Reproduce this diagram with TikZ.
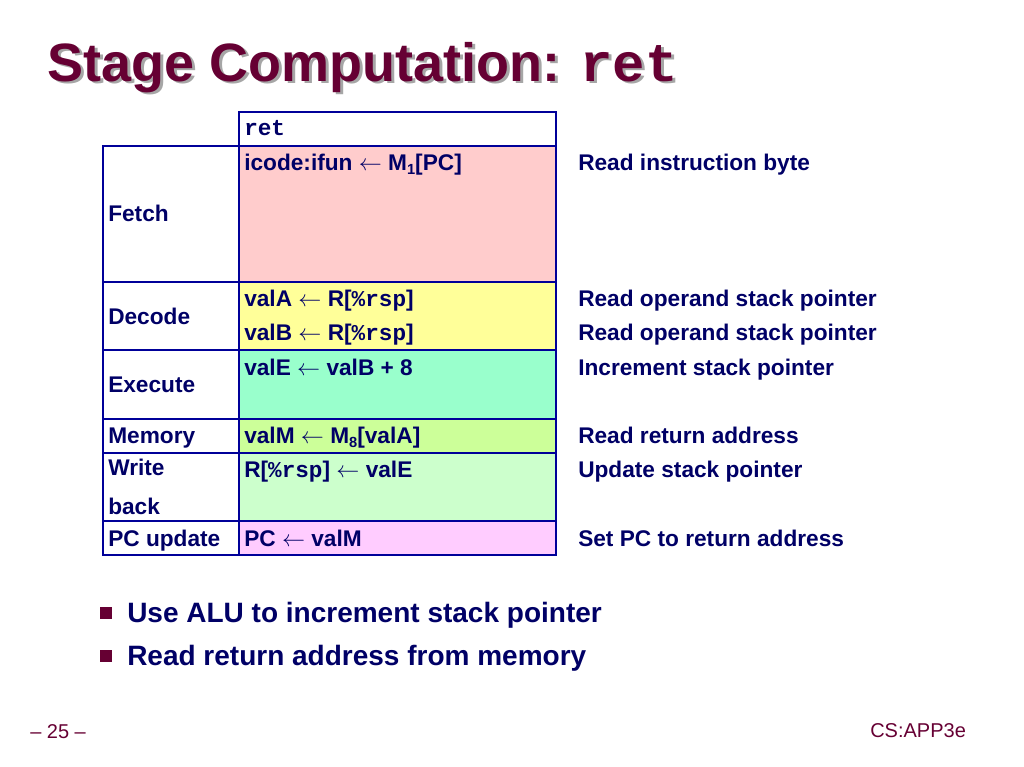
\documentclass[tikz,border=0pt]{standalone}
\usepackage{fontspec}
\setmainfont{Liberation Sans}
\setmonofont{Liberation Mono}
\usepackage{xcolor}
\definecolor{slidenavy}{HTML}{000066}
\definecolor{gridblue}{HTML}{000099}
\definecolor{titlered}{HTML}{660033}
\definecolor{shadowgray}{HTML}{A6A6A6}
\definecolor{fetchpink}{HTML}{FFCCCC}
\definecolor{decodeyellow}{HTML}{FFFF99}
\definecolor{executeaqua}{HTML}{99FFCC}
\definecolor{memorylime}{HTML}{CCFF99}
\definecolor{writegreen}{HTML}{CCFFCC}
\definecolor{pcviolet}{HTML}{FFCCFF}
\newcommand{\rsp}{\texttt{\%rsp}}
\newcommand{\lowidx}[1]{\raisebox{-0.35ex}{\fontsize{11}{11}\selectfont\bfseries #1}}
\newcommand{\getsarrow}{$\leftarrow$}
\tikzset{
    stage-cell/.style = {draw=gridblue, line width=1.5pt, rectangle, anchor=north west, inner sep=0pt, minimum width=102pt},
    op-cell/.style = {draw=gridblue, line width=1.5pt, rectangle, anchor=north west, inner sep=0pt, minimum width=237.75pt},
    cell-text/.style = {text=slidenavy, font=\fontsize{17}{20}\selectfont\bfseries, anchor=base west, inner sep=0pt},
    bullet-box/.style = {fill=titlered, rectangle, inner sep=0pt, minimum size=9pt},
    bullet-text/.style = {text=slidenavy, font=\fontsize{21}{25}\selectfont\bfseries, anchor=base west, inner sep=0pt},
    foot-text/.style = {text=titlered, font=\fontsize{15}{18}\selectfont, anchor=base west, inner sep=0pt},
}

\begin{document}
\begin{tikzpicture}[x=0.75pt, y=-0.75pt]
\useasboundingbox (0,0) rectangle (1024,767);

% title with its shadow
\node[anchor=base west, inner sep=0pt, text=shadowgray, font=\fontsize{40.5}{46}\selectfont\bfseries] (titleshadow) at (50,84) {Stage Computation: \texttt{ret}};
\node[anchor=base west, inner sep=0pt, text=titlered, font=\fontsize{40.5}{46}\selectfont\bfseries] (title) at (47,81) {Stage Computation: \texttt{ret}};

% table cells
\node[op-cell, fill=white, minimum height=25.5pt] (instr) at (238,111) {};
\node[stage-cell, minimum height=102pt] (fetchL) at (102,145) {};
\node[op-cell, fill=fetchpink, minimum height=102pt] (fetchR) at (238,145) {};
\node[stage-cell, minimum height=51pt] (decodeL) at (102,281) {};
\node[op-cell, fill=decodeyellow, minimum height=51pt] (decodeR) at (238,281) {};
\node[stage-cell, minimum height=51.75pt] (executeL) at (102,349) {};
\node[op-cell, fill=executeaqua, minimum height=51.75pt] (executeR) at (238,349) {};
\node[stage-cell, minimum height=25.5pt] (memoryL) at (102,418) {};
\node[op-cell, fill=memorylime, minimum height=25.5pt] (memoryR) at (238,418) {};
\node[stage-cell, minimum height=51pt] (writeL) at (102,452) {};
\node[op-cell, fill=writegreen, minimum height=51pt] (writeR) at (238,452) {};
\node[stage-cell, minimum height=25.5pt] (pcL) at (102,520) {};
\node[op-cell, fill=pcviolet, minimum height=25.5pt] (pcR) at (238,520) {};

% stage names
\node[cell-text] (fetchname) at (108,221) {Fetch};
\node[cell-text] (decodename) at (108,324) {Decode};
\node[cell-text] (executename) at (108,392) {Execute};
\node[cell-text] (memoryname) at (108,443) {Memory};
\node[cell-text] (writename) at (108,475) {Write};
\node[cell-text] (backname) at (108,514) {back};
\node[cell-text] (pcname) at (108,546) {PC update};

% computations
\node[cell-text] (instrname) at (244,135) {\texttt{ret}};
\node[cell-text] (icodeop) at (244,170) {icode:ifun \getsarrow\ M\lowidx{1}[PC]};
\node[cell-text] (valaop) at (244,306) {valA \getsarrow\ R[\rsp]};
\node[cell-text] (valbop) at (244,340) {valB \getsarrow\ R[\rsp]};
\node[cell-text] (valeop) at (244,375) {valE \getsarrow\ valB + 8};
\node[cell-text] (valmop) at (244,443) {valM \getsarrow\ M\lowidx{8}[valA]};
\node[cell-text] (rspop) at (244,477) {R[\rsp] \getsarrow\ valE};
\node[cell-text] (pcop) at (244,546) {PC \getsarrow\ valM};

% comments on the right
\node[cell-text] (icodenote) at (578,170) {Read instruction byte};
\node[cell-text] (valanote) at (578,306) {Read operand stack pointer};
\node[cell-text] (valbnote) at (578,340) {Read operand stack pointer};
\node[cell-text] (valenote) at (578,375) {Increment stack pointer};
\node[cell-text] (valmnote) at (578,443) {Read return address};
\node[cell-text] (rspnote) at (578,477) {Update stack pointer};
\node[cell-text] (pcnote) at (578,546) {Set PC to return address};

% bullets
\node[bullet-box] (bulletA) at (106,613) {};
\node[bullet-text] (pointA) at (127,622) {Use ALU to increment stack pointer};
\node[bullet-box] (bulletB) at (106,656) {};
\node[bullet-text] (pointB) at (127,665) {Read return address from memory};

% footer
\node[foot-text] (pagenum) at (30,738) {-- 25 --};
\node[foot-text] (bookname) at (870,737) {CS:APP3e};
\end{tikzpicture}
\end{document}
